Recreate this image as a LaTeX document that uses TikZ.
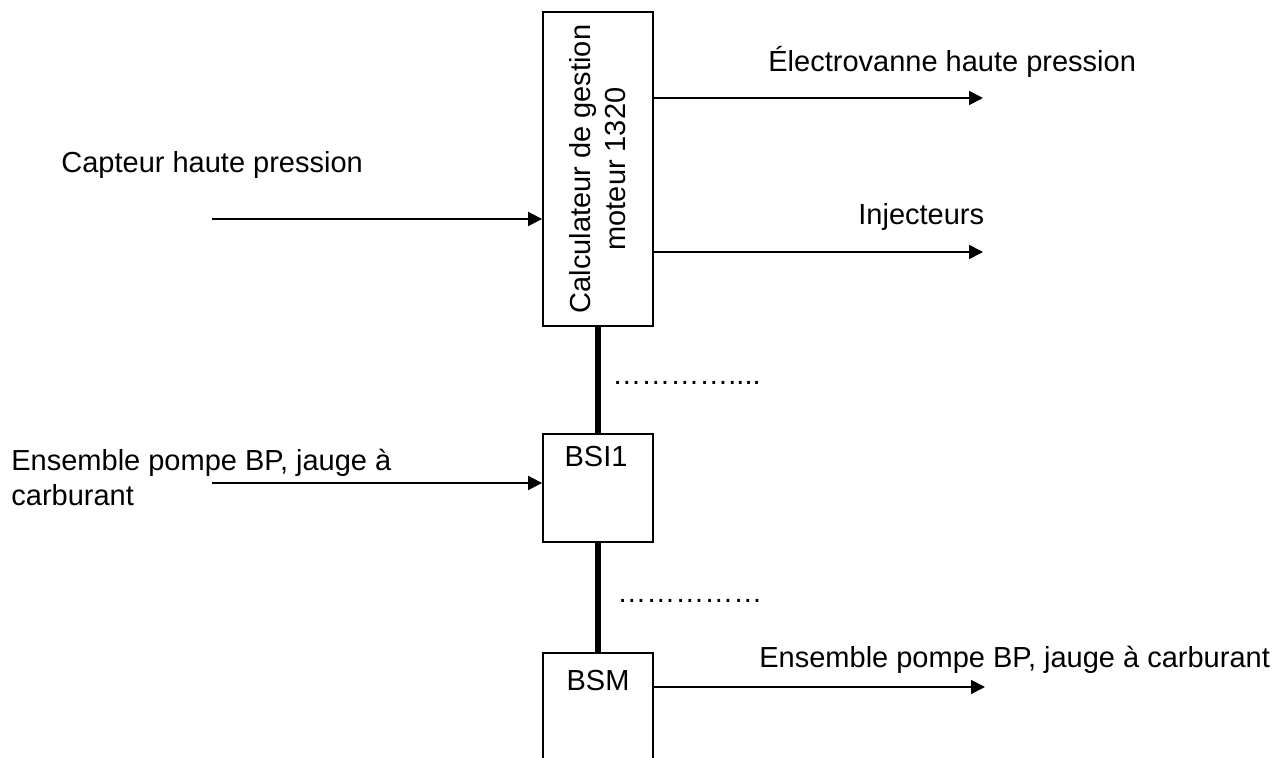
\documentclass[tikz,border=0pt]{standalone}
\usepackage{fontspec}
\setmainfont{Liberation Sans}
\usetikzlibrary{arrows.meta}

\begin{document}
\begin{tikzpicture}[x=0.5pt,y=-0.5pt,
    every node/.style={font=\fontsize{14.5}{17.5}\selectfont},
    bloc/.style={draw,line width=0.9pt,inner sep=0pt},
    sig/.style={line width=0.9pt,-{Triangle[length=7pt,width=7pt]}},
    bus/.style={line width=2.6pt},
    txt/.style={anchor=base west,inner sep=0pt}]
  \useasboundingbox (0,0) rectangle (1282,758);
  \clip (0,0) rectangle (1282,758);
  % blocs
  \node[bloc,rotate=90,minimum width=157pt,minimum height=55pt,align=center] (calc) at (598,169) {Calculateur de gestion\\moteur 1320};
  \node[bloc,minimum width=55pt,minimum height=54pt] (bsi) at (598,488) {};
  \node[anchor=base,inner sep=0pt] (bsitxt) at (596,467) {BSI1};
  \node[bloc,minimum width=55pt,minimum height=80pt] (bsm) at (598,733) {};
  \node[anchor=base,inner sep=0pt] (bsmtxt) at (598,691) {BSM};
  % textes
  \node[txt] (capteur) at (61,173) {Capteur haute pression};
  \node[anchor=north west,inner sep=0pt,align=left] (pompe) at (11,449) {Ensemble pompe BP, jauge à\\carburant};
  \node[txt] (ev) at (768,72) {Électrovanne haute pression};
  \node[txt] (inj) at (858,225) {Injecteurs};
  \node[txt] (pompebsm) at (759,668) {Ensemble pompe BP, jauge à carburant};
  \node[txt] (dotsa) at (612,385) {…………....};
  \node[txt] (dotsb) at (617,603) {……………};
  % liaisons
  \coordinate (capin) at (212,219);
  \coordinate (pompein) at (212,483);
  \coordinate (evout) at (983,98);
  \coordinate (injout) at (983,252);
  \coordinate (bsmout) at (985,687);
  \draw[sig] (capin) -- (capin -| calc.north);
  \draw[sig] (pompein) -- (pompein -| bsi.west);
  \draw[sig] (evout -| calc.south) -- (evout);
  \draw[sig] (injout -| calc.south) -- (injout);
  \draw[sig] (bsmout -| bsm.east) -- (bsmout);
  \draw[bus] (calc.west) -- (bsi.north);
  \draw[bus] (bsi.south) -- (bsm.north);
\end{tikzpicture}
\end{document}
